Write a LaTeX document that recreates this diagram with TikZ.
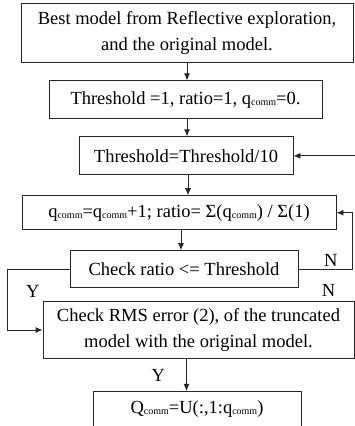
\documentclass[tikz,border=0pt]{standalone}
\usepackage{fontspec}
\setmainfont{Liberation Serif}
\usetikzlibrary{
    arrows.meta,
    positioning
}
\newcommand{\sub}[1]{\raisebox{-1pt}{\fontsize{10}{10}\selectfont #1}}
\newcommand{\qc}{q\sub{comm}}
\tikzstyle{box} = [
    rectangle,
    draw=black!85,
    line width=0.9pt,
    text centered,
    align=center,
    inner sep=2pt,
    font=\fontsize{18.5}{26}\selectfont
]
\tikzstyle{arrow} = [
    line width=0.9pt,
    draw=black!85,
    -{Latex[length=7pt,width=6pt]}
]
\tikzstyle{lab} = [
    inner sep=2pt,
    font=\fontsize{18.5}{22}\selectfont
]

\begin{document}
\begin{tikzpicture}[x=1pt, y=1pt]
\useasboundingbox (0,0) rectangle (355,426);

\node (step1) [box, minimum width=332pt, minimum height=59pt] at (187,393.5)
    {Best model from Reflective exploration,\\and the original model.};
\node (step2) [box, minimum width=273pt, minimum height=38pt, below=18pt of step1, xshift=-1.5pt]
    {Threshold =1, ratio=1, \qc=0.};
\node (step3) [box, minimum width=214pt, minimum height=38pt, below=17pt of step2, xshift=0.5pt]
    {Threshold=Threshold/10};
\node (step4) [box, minimum width=314pt, minimum height=34pt, below=20pt of step3, xshift=-7pt]
    {\qc=\qc+1; ratio= Σ(\qc) / Σ(1)};
\node (check1) [box, minimum width=228pt, minimum height=37pt, below=20pt of step4, xshift=5pt]
    {Check ratio <= Threshold};
\node (check2) [box, minimum width=311pt, minimum height=57pt, below=13pt of check1, xshift=14.5pt]
    {Check RMS error (2), of the truncated\\model with the original model.};
\node (result) [box, minimum width=208pt, minimum height=36pt, below=32pt of check2, xshift=-1.5pt]
    {Q\sub{comm}=U(:,1:\qc)};

\draw [arrow] (step1.south) -- (step1.south |- step2.north);
\draw [arrow] (step2.south -| step1.south) -- (step3.north -| step1.south);
\draw [arrow] ([xshift=2pt]step3.south) -- ([xshift=2pt]step3.south |- step4.north);
\draw [arrow] ([xshift=2pt]step4.south) -- ([xshift=2pt]step4.south |- check1.north);
\draw [arrow] ([xshift=-12pt]check2.south) -- ([xshift=-12pt]check2.south |- result.north)
    node[lab, midway, left=19pt] {Y};

% Schleife N
\draw [arrow] (check1.east) -| ([xshift=16pt]step4.east)
    node[lab, pos=0.3, above] {N} -- (step4.east);
% Schleife Y
\draw [arrow] (check1.west) -- ++(-62pt,0)
    |- (check2.west) node[lab, pos=0.18, right=16pt] {Y};
% Rücksprung zu Threshold
\draw [arrow] (check2.east) -- ++(4pt,0) |- (step3.east);
\node [lab, above left=2pt and 17pt of check2.north east] {N};

\end{tikzpicture}
\end{document}
